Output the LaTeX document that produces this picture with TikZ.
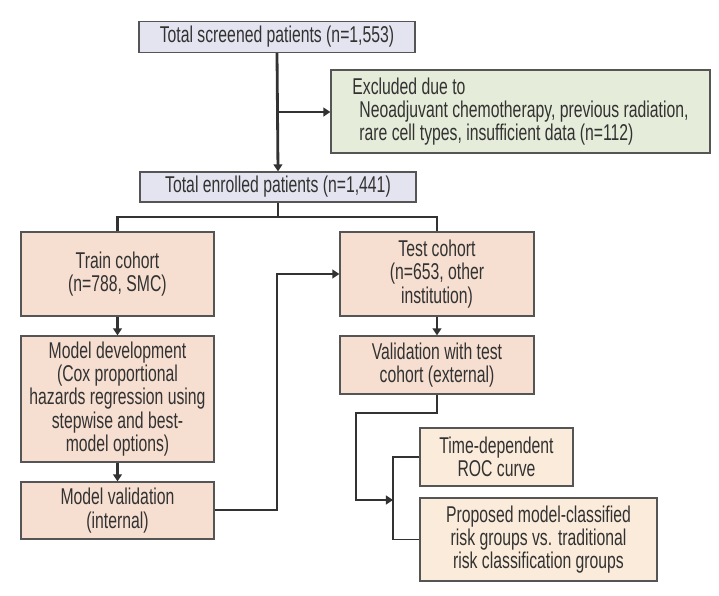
\documentclass[tikz,border=0pt]{standalone}
\usepackage{fontspec}
\setmainfont{Liberation Sans}[FakeStretch=0.69]
\usetikzlibrary{arrows.meta}
\definecolor{lav}{RGB}{228,228,240}
\definecolor{sage}{RGB}{229,236,217}
\definecolor{peach}{RGB}{246,222,208}
\definecolor{cream}{RGB}{251,235,218}
\definecolor{edge}{RGB}{85,85,85}
\definecolor{ink}{RGB}{50,50,50}
\tikzset{
    box/.style={draw=edge,line width=0.7pt,text=ink,inner sep=2pt,align=center,
        font=\fontsize{13}{13.2}\selectfont},
    flow/.style={line width=1.6pt,color=ink,-{Triangle[length=4pt,width=5pt]}},
    link/.style={line width=1.1pt,color=ink},
}
\begin{document}
\begin{tikzpicture}[x=0.02cm,y=-0.02cm]
        \useasboundingbox (0,0) rectangle (719,595);

        \node (screened) at (277,37) [box,fill=lav,minimum width=5.52cm,minimum height=0.62cm]{Total screened patients (n=1,553)};
        \node (excl) at (520.5,111.5) [box,fill=sage,minimum width=7.58cm,minimum height=1.66cm,align=left]{Excluded due to\\\hspace{4pt}Neoadjuvant chemotherapy, previous radiation,\\\hspace{4pt}rare cell types, insufficient data (n=112)};
        \node (enrolled) at (278,187) [box,fill=lav,minimum width=5.52cm,minimum height=0.6cm]{Total enrolled patients (n=1,441)};

        \node (train) at (117.5,274) [box,fill=peach,minimum width=3.86cm,minimum height=1.68cm]{Train cohort\\(n=788, SMC)};
        \node (test) at (437,274) [box,fill=peach,minimum width=3.88cm,minimum height=1.68cm]{Test cohort\\(n=653, other\\institution)};
        \node (dev) at (117.5,399) [box,fill=peach,minimum width=3.86cm,minimum height=2.52cm]{Model development\\(Cox proportional\\hazards regression using\\stepwise and best-\\model options)};
        \node (intval) at (117.5,510.5) [box,fill=peach,minimum width=3.86cm,minimum height=1.14cm]{Model validation\\(internal)};
        \node (extval) at (437,365) [box,fill=peach,minimum width=3.88cm,minimum height=1.16cm]{Validation with test\\cohort (external)};
        \node (roc) at (496.5,457) [box,fill=cream,minimum width=3.06cm,minimum height=1.16cm]{Time-dependent\\ROC curve};
        \node (prop) at (538.5,539.5) [box,fill=cream,minimum width=4.74cm,minimum height=1.66cm]{Proposed model-classified\\risk groups vs. traditional\\risk classification groups};

        \coordinate (split) at (277,112);
        \coordinate (fork) at (278,217);
        \coordinate (loopup) at (277,510);
        \coordinate (drop) at (437,413);
        \coordinate (bend) at (356,413);
        \coordinate (tip) at (393,500);

        % screening to enrolment
        \draw [flow](screened.south) -- (enrolled.north);
        \draw [flow](split) -- (excl.west |- split);

        % two cohorts
        \draw [link,line width=1.6pt](enrolled.south) -- (fork);
        \draw [link,line width=1.6pt](train.north) -- (train.north |- fork) -- (test.north |- fork) -- (test.north);

        \draw [flow](train.south) -- (dev.north);
        \draw [flow](dev.south) -- (intval.north);
        \draw [flow](test.south) -- (extval.north);

        \draw [flow,line width=1.1pt](intval.east |- loopup) -- (loopup) -- (loopup |- test.west) -- (test.west);
        \draw [flow,line width=1.1pt](extval.south) -- (drop) -- (bend) -- (bend |- tip) -- (tip);
        \draw [link](roc.west) -- (tip |- roc.west) -- (tip |- prop.west) -- (prop.west);

    \end{tikzpicture}
\end{document}
